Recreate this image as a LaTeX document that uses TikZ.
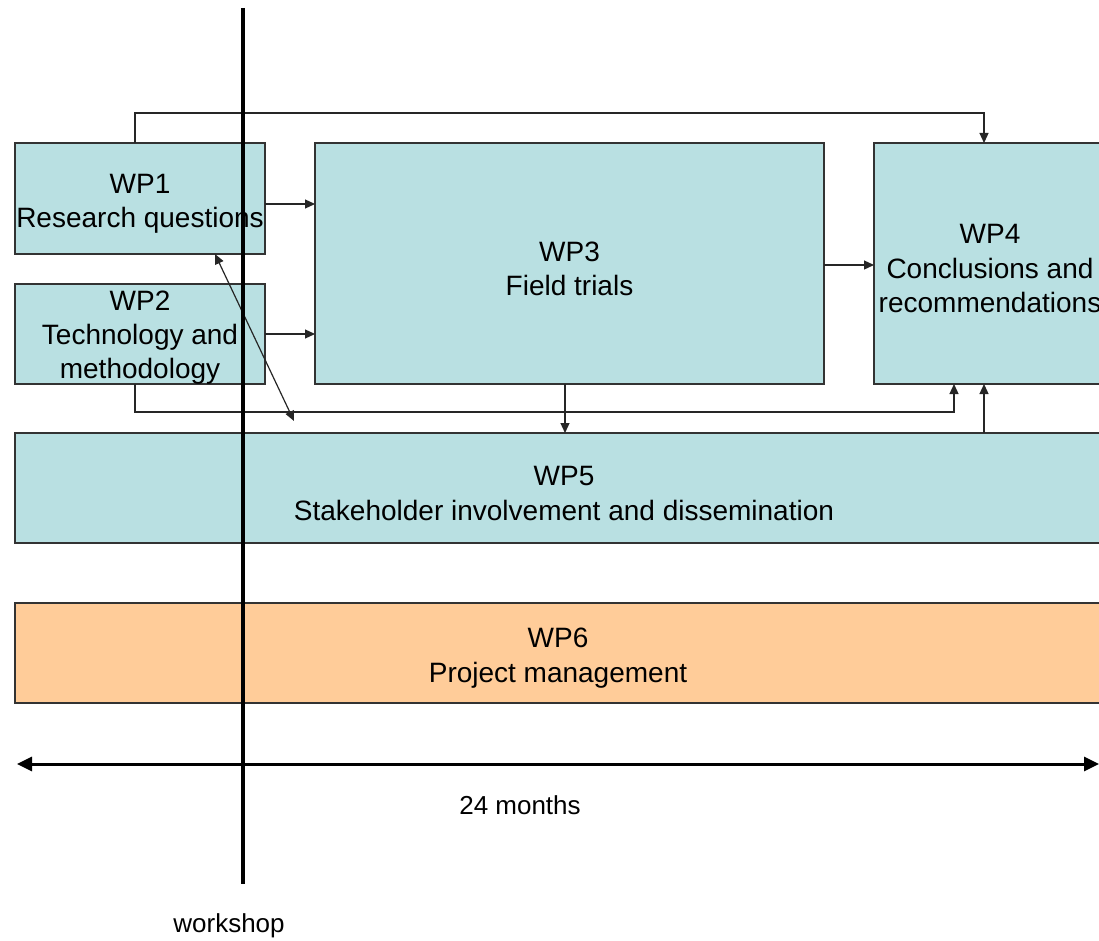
\documentclass[tikz,border=0pt]{standalone}
\usepackage{fontspec}
\setmainfont{Liberation Sans}
\usetikzlibrary{arrows.meta,calc}
\definecolor{wpteal}{HTML}{B9E0E2}
\definecolor{wporange}{HTML}{FFCC99}
\definecolor{wpedge}{HTML}{333333}
\newcommand{\wpstrut}{\rule{0pt}{30pt}}
\newcommand{\wpstrutsmall}{\rule{0pt}{26pt}}
\tikzset{
  wpbox/.style={draw=wpedge, line width=1.1pt, fill=wpteal, rectangle, inner sep=0pt, outer sep=0pt, align=center,
    font=\fontsize{28}{34.5}\selectfont},
  conn/.style={draw=black!85, line width=1.2pt, -{Triangle[length=10pt,width=9pt]}},
  bothconn/.style={draw=black!85, line width=1.2pt, {Triangle[length=10pt,width=9pt]}-{Triangle[length=10pt,width=9pt]}},
  timeline/.style={draw=black, line width=3pt, {Triangle[length=15pt,width=14pt]}-{Triangle[length=15pt,width=14pt]}},
  wsline/.style={draw=black, line width=3.5pt},
  lbl/.style={font=\fontsize{26}{31}\selectfont, inner sep=0pt}
}
\begin{document}
\begin{tikzpicture}[x=1pt,y=-1pt]
\clip (0,0) rectangle (1099,941);
\fill[white] (0,0) rectangle (1099,941);
% boxes
\node[wpbox, minimum width=250pt, minimum height=111pt] (wp1) at (140,198.5) {\wpstrut WP1\\Research questions};
\node[wpbox, font=\fontsize{28}{34}\selectfont, minimum width=250pt, minimum height=100pt] (wp2) at (140,334) {\wpstrutsmall WP2\\Technology and\\methodology};
\node[wpbox, minimum width=509pt, minimum height=241pt] (wp3) at (569.5,263.5) {\wpstrut WP3\\Field trials};
\node[wpbox, minimum width=232pt, minimum height=241pt] (wp4) at (990,263.5) {\wpstrut WP4\\Conclusions and\\recommendations};
\node[wpbox, minimum width=1098pt, minimum height=110pt] (wp5) at (564,488) {\wpstrut WP5\\Stakeholder involvement and dissemination};
\node[wpbox, fill=wporange, minimum width=1086pt, minimum height=100pt] (wp6) at (558,653) {\wpstrut WP6\\Project management};
% connectors
\draw[conn] (135,0 |- wp1.north) -- (135,113) -- (984,113) -- (984,0 |- wp4.north);
\draw[conn] (wp1.east |- 0,204) -- (wp3.west |- 0,204);
\draw[conn] (wp2.east) -- (wp3.west |- wp2.east);
\draw[conn] (wp3.east |- 0,265) -- (wp4.west |- 0,265);
\draw[conn] (135,0 |- wp2.south) -- (135,412) -- (954,412) -- (954,0 |- wp4.south);
\draw[conn] (565,0 |- wp3.south) -- (565,0 |- wp5.north);
\draw[conn] (984,0 |- wp5.north) -- (984,0 |- wp4.south);
\coordinate (diagend) at (294,421);
\draw[bothconn] (215,0 |- wp1.south) -- (diagend);
% workshop line and timeline
\coordinate (wstop) at (243,8);
\coordinate (wsbot) at (243,884);
\draw[wsline] (wstop) -- (wsbot);
\coordinate (tl) at (17,764);
\coordinate (tr) at (1099,764);
\draw[timeline] (tl) -- (tr);
\node[lbl] (months) at (520,805) {24 months};
\node[lbl] (workshop) at (229,926) {workshop};
\end{tikzpicture}
\end{document}
